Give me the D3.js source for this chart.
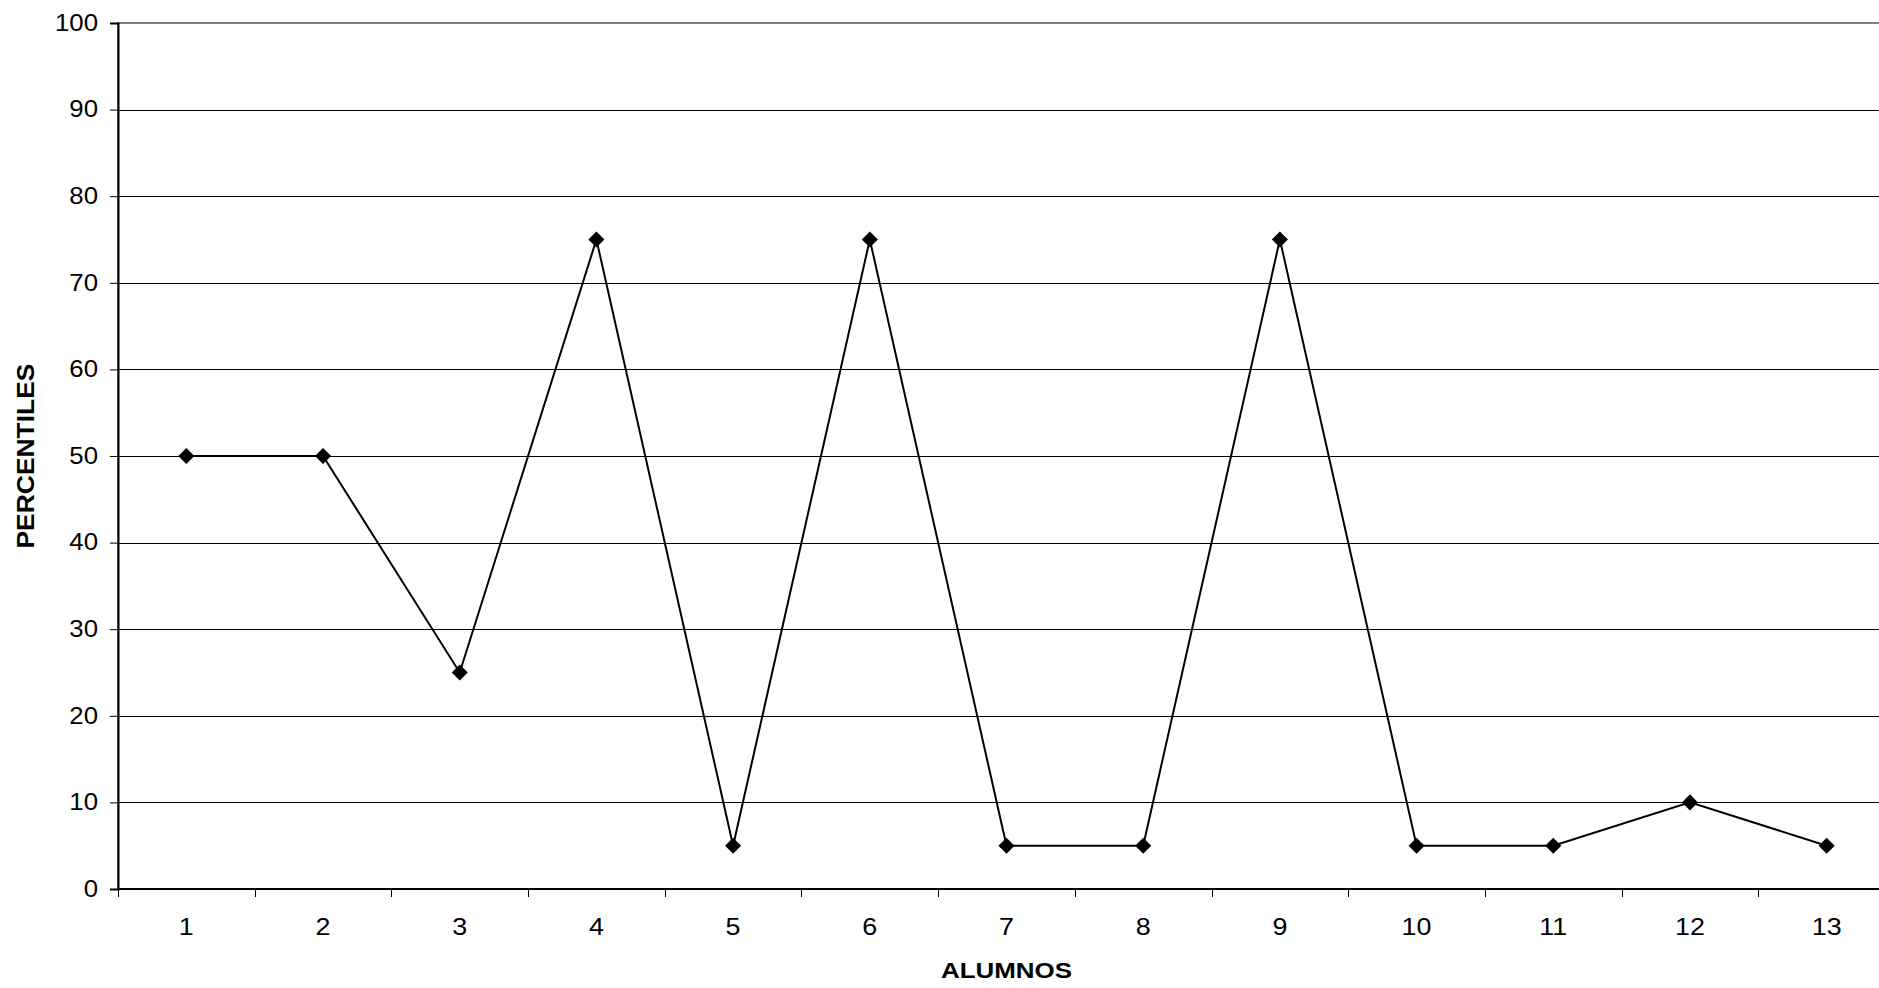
<!DOCTYPE html>
<html>
<head>
<meta charset="utf-8">
<script src="https://cdn.jsdelivr.net/npm/d3@7"></script>
<style>
html,body{margin:0;padding:0;background:#fff;overflow:hidden;}
svg{display:block;}
text{font-family:"Liberation Sans",Arial,Helvetica,sans-serif;fill:#000;}
</style>
</head>
<body>
<script>
const categories = ["1","2","3","4","5","6","7","8","9","10","11","12","13"];
const values = [50,50,25,75,5,75,5,5,75,5,5,10,5];
const yTicks = [0,10,20,30,40,50,60,70,80,90,100];
const xTitle = "ALUMNOS";
const yTitle = "PERCENTILES";

const W = 1879, H = 988;
const mLeft = 118, mTop = 23, mBottom = 889, plotW = 1777;
const stretch = 1.12;

const svg = d3.select("body").append("svg").attr("width", W).attr("height", H);

const x = d3.scaleBand().domain(categories).range([mLeft, mLeft + plotW]);
const y = d3.scaleLinear().domain([0, 100]).range([mBottom, mTop]);

// gridlines
svg.append("g").selectAll("line").data(yTicks.filter(d => d > 0 && d < 100)).join("line")
  .attr("x1", mLeft).attr("x2", mLeft + plotW)
  .attr("y1", d => Math.round(y(d)) + 0.5).attr("y2", d => Math.round(y(d)) + 0.5)
  .attr("stroke", "#000").attr("stroke-width", 1);

// plot border (top/right)
svg.append("rect").attr("x", mLeft).attr("y", y(100)).attr("width", plotW).attr("height", mBottom - y(100))
  .attr("fill", "none").attr("stroke", "#808080").attr("stroke-width", 2);

function stretchText(sel) {
  sel.each(function () {
    const n = this.getComputedTextLength();
    d3.select(this).attr("textLength", n * stretch).attr("lengthAdjust", "spacingAndGlyphs");
  });
}

// y axis
const yAxis = d3.axisLeft(y).tickValues(yTicks).tickSize(8).tickPadding(12);
const gy = svg.append("g").attr("transform", `translate(${mLeft},0)`).call(yAxis);
gy.select(".domain").attr("stroke", "#000").attr("stroke-width", 2);
gy.selectAll(".tick line").attr("stroke", "#000").attr("stroke-width", 1);
gy.selectAll(".tick text").attr("font-size", 23).attr("font-family", "Liberation Sans, Arial, sans-serif")
  .attr("fill", "#000").call(stretchText);

// x axis
const gx = svg.append("g").attr("transform", `translate(0,${mBottom})`);
gx.append("line").attr("x1", mLeft).attr("x2", mLeft + plotW).attr("y1", 0).attr("y2", 0)
  .attr("stroke", "#000").attr("stroke-width", 2);
const bounds = categories.map(c => x(c)).concat([mLeft + plotW]);
gx.selectAll("line.tk").data(bounds).join("line").attr("class", "tk")
  .attr("x1", d => Math.round(d) + 0.5).attr("x2", d => Math.round(d) + 0.5)
  .attr("y1", 0).attr("y2", 8).attr("stroke", "#000").attr("stroke-width", 1);
gx.selectAll("text").data(categories).join("text")
  .attr("x", d => x(d) + x.bandwidth() / 2).attr("y", 46)
  .attr("text-anchor", "middle").attr("font-size", 24).text(d => d).call(stretchText);

// line
const line = d3.line().x((d, i) => x(categories[i]) + x.bandwidth() / 2).y(d => y(d));
svg.append("path").datum(values).attr("d", line)
  .attr("fill", "none").attr("stroke", "#000").attr("stroke-width", 2);

// markers
const sym = d3.symbol().type(d3.symbolDiamond2).size(165);
svg.append("g").selectAll("path").data(values).join("path")
  .attr("transform", (d, i) => `translate(${x(categories[i]) + x.bandwidth() / 2},${y(d)})`)
  .attr("d", sym).attr("fill", "#000");

// titles
svg.append("text").attr("x", mLeft + plotW / 2).attr("y", 978)
  .attr("text-anchor", "middle").attr("font-size", 22).attr("font-weight", "bold")
  .attr("textLength", 131).attr("lengthAdjust", "spacingAndGlyphs").text(xTitle);
svg.append("text").attr("transform", `translate(34,${(mTop + mBottom) / 2}) rotate(-90)`)
  .attr("text-anchor", "middle").attr("font-size", 24).attr("font-weight", "bold")
  .attr("textLength", 185).attr("lengthAdjust", "spacingAndGlyphs").text(yTitle);
</script>
</body>
</html>
